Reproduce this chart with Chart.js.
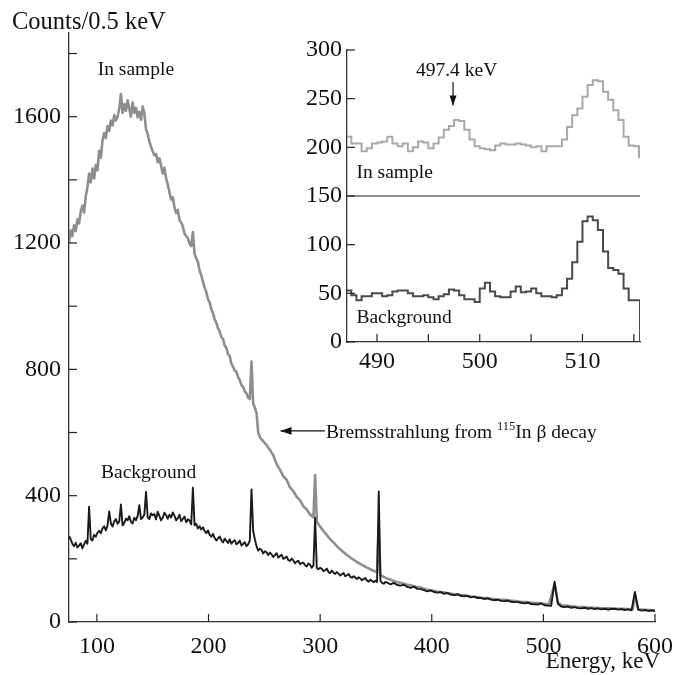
<!DOCTYPE html>
<html>
<head>
<meta charset="utf-8">
<script src="https://cdn.jsdelivr.net/npm/chart.js@4.4.1/dist/chart.umd.min.js"></script>
<style>
  html, body { margin: 0; padding: 0; background: #ffffff; }
  #wrap { position: relative; width: 675px; height: 675px; }
  #wrap canvas { position: absolute; left: 0; top: 0; }
</style>
</head>
<body>
<div id="wrap">
  <canvas id="main" width="675" height="675"></canvas>
  <canvas id="inset" width="675" height="675"></canvas>
</div>
<script>
// ---------- Main spectrum: In sample (gray) ----------
const sampleEnergy = [
  75, 76.5, 78, 79.5, 81, 82.5, 84, 85.5, 87, 88.5,
  90, 91.5, 93, 94.5, 96, 97.5, 99, 100.5, 102, 103.5,
  105, 106.5, 108, 109.5, 111, 112.5, 114, 115.5, 117, 118.5,
  120, 121.5, 123, 124.5, 126, 127.5, 129, 130.5, 132, 133.5,
  135, 136.5, 138, 139.5, 141, 142.5, 144, 145.5, 147, 148.5,
  150, 151.5, 153, 154.5, 156, 157.5, 159, 160.5, 162, 163.5,
  165, 166.5, 168, 169.5, 171, 172.5, 174, 175.5, 177, 178.5,
  180, 181.5, 183, 184.5, 186, 187.5, 189, 190.5, 192, 193.5,
  195, 196.5, 198, 199.5, 201, 202.5, 204, 205.5, 207, 208.5,
  210, 211.5, 213, 214.5, 216, 217.5, 219, 220.5, 222, 223.5,
  225, 226.5, 228, 229.5, 231, 232.5, 234, 235.5, 237, 238.5,
  240, 241.5, 243, 244.5, 246, 247.5, 249, 250.5, 252, 253.5,
  255, 258, 261, 264, 267, 270, 273, 276, 279, 282,
  285, 288, 291, 294, 295.5, 297, 300, 303, 306, 309,
  312, 315, 318, 321, 324, 327, 330, 333, 336, 339,
  342, 345, 348, 351, 352.5, 354, 357, 360, 363, 366,
  369, 372, 375, 378, 381, 384, 387, 390, 395, 400,
  405, 410, 415, 420, 425, 430, 435, 440, 445, 450,
  455, 460, 465, 470, 475, 480, 485, 490, 495, 500,
  505, 510, 513, 516, 520, 525, 530, 535, 540, 545,
  550, 555, 560, 565, 570, 575, 580, 582, 585, 590,
  595, 600
];
const sampleCounts = [
  1200, 1240, 1222, 1256, 1238, 1275, 1262, 1300, 1318, 1296,
  1348, 1375, 1420, 1392, 1436, 1404, 1447, 1430, 1492, 1470,
  1525, 1548, 1532, 1570, 1555, 1588, 1572, 1605, 1588, 1600,
  1625, 1672, 1612, 1640, 1618, 1652, 1626, 1600, 1645, 1612,
  1628, 1598, 1615, 1590, 1632, 1610, 1560, 1545, 1522, 1505,
  1490, 1478, 1482, 1456, 1468, 1445, 1420, 1438, 1405, 1385,
  1360, 1338, 1345, 1312, 1295, 1305, 1272, 1265, 1252, 1230,
  1222, 1215, 1198, 1190, 1235, 1165, 1152, 1140, 1112, 1098,
  1078, 1058, 1045, 1022, 1012, 990, 978, 958, 948, 930,
  920, 902, 896, 875, 868, 848, 842, 818, 808, 796,
  792, 775, 766, 750, 745, 730, 724, 710, 706, 825,
  692, 678, 662, 600, 586, 578, 572, 566, 560, 552,
  545, 528, 500, 482, 462, 450, 426, 414, 396, 385,
  366, 356, 340, 332, 465, 318, 302, 288, 275, 262,
  252, 240, 230, 221, 212, 204, 197, 190, 184, 178,
  172, 167, 162, 157, 300, 148, 143, 138, 134, 130,
  126, 124, 121, 118, 116, 113, 111, 109, 103, 100,
  96, 94, 91, 88, 86, 84, 81, 79, 77, 76,
  73, 71, 70, 68, 66, 64, 63, 61, 60, 58,
  56, 120, 62, 53, 52, 50, 48, 47, 46, 45,
  44, 43, 43, 42, 42, 41, 40, 85, 40, 39,
  38, 37
];

// ---------- Main spectrum: Background (black) ----------
const bgEnergy = [
  75, 76.5, 78, 79.5, 81, 82.5, 84, 85.5, 87, 88.5,
  90, 91.5, 93, 94.5, 96, 97.5, 99, 100.5, 102, 103.5,
  105, 106.5, 108, 109.5, 111, 112.5, 114, 115.5, 117, 118.5,
  120, 121.5, 123, 124.5, 126, 127.5, 129, 130.5, 132, 133.5,
  135, 136.5, 138, 139.5, 141, 142.5, 144, 145.5, 147, 148.5,
  150, 151.5, 153, 154.5, 156, 157.5, 159, 160.5, 162, 163.5,
  165, 166.5, 168, 169.5, 171, 172.5, 174, 175.5, 177, 178.5,
  180, 181.5, 183, 184.5, 186, 187.5, 189, 190.5, 192, 193.5,
  195, 196.5, 198, 199.5, 201, 202.5, 204, 205.5, 207, 208.5,
  210, 211.5, 213, 214.5, 216, 217.5, 219, 220.5, 222, 223.5,
  225, 226.5, 228, 229.5, 231, 232.5, 234, 235.5, 237, 238.5,
  240, 241.5, 243, 244.5, 246, 247.5, 249, 250.5, 252, 253.5,
  255, 256.5, 258, 259.5, 261, 262.5, 264, 265.5, 267, 268.5,
  270, 271.5, 273, 274.5, 276, 277.5, 279, 280.5, 282, 283.5,
  285, 286.5, 288, 289.5, 291, 292.5, 294, 295.5, 297, 298.5,
  300, 301.5, 303, 304.5, 306, 307.5, 309, 310.5, 312, 313.5,
  315, 316.5, 318, 319.5, 321, 322.5, 324, 325.5, 327, 328.5,
  330, 331.5, 333, 334.5, 336, 337.5, 339, 340.5, 342, 343.5,
  345, 346.5, 348, 349.5, 351, 352.5, 354, 355.5, 357, 358.5,
  360, 363, 366, 369, 372, 375, 378, 381, 384, 387,
  390, 393, 396, 399, 402, 405, 408, 411, 414, 417,
  420, 423, 426, 429, 432, 435, 438, 441, 444, 447,
  450, 453, 456, 459, 462, 465, 468, 471, 474, 477,
  480, 483, 486, 489, 492, 495, 498, 501, 504, 507,
  510, 513, 516, 519, 522, 525, 528, 531, 534, 537,
  540, 543, 546, 549, 552, 555, 558, 561, 564, 567,
  570, 573, 576, 579, 582, 585, 588, 591, 594, 597,
  600
];
const bgCounts = [
  272, 262, 248, 240, 251, 236, 242, 249, 233, 246,
  257, 248, 365, 262, 258, 276, 270, 282, 289, 281,
  296, 303, 290, 305, 350, 312, 302, 318, 326, 311,
  318, 372, 306, 313, 327, 322, 335, 317, 312, 330,
  322, 336, 370, 326, 331, 340, 412, 331, 326, 344,
  338, 342, 325, 349, 336, 322, 330, 346, 338, 327,
  340, 331, 347, 336, 322, 329, 340, 319, 326, 334,
  316, 325, 321, 309, 425, 306, 311, 296, 303, 293,
  300, 288, 281, 290, 276, 270, 279, 266, 258, 264,
  271, 259, 252, 264, 257, 250, 262, 248, 255, 259,
  246, 250, 258, 242, 247, 253, 240, 246, 258, 420,
  288, 262, 240, 226, 232, 228, 217, 224, 221, 212,
  220, 214, 206, 212, 218, 204, 209, 213, 200, 203,
  207, 196, 193, 201, 195, 186, 191, 194, 183, 187,
  188, 180, 176, 185, 181, 172, 179, 330, 171, 167,
  172, 168, 161, 164, 169, 158, 155, 163, 156, 152,
  158, 153, 147, 151, 155, 145, 148, 152, 143, 140,
  145, 141, 136, 142, 138, 132, 136, 139, 131, 128,
  134, 130, 126, 131, 127, 413, 130, 124, 121, 127,
  125, 119, 124, 117, 115, 118, 111, 108, 112, 105,
  104, 101, 97, 100, 95, 93, 95, 89, 92, 87,
  85, 88, 83, 81, 83, 78, 80, 76, 76, 73,
  75, 71, 69, 71, 67, 66, 68, 64, 63, 63,
  61, 59, 61, 57, 56, 55, 59, 53, 52, 51,
  128, 58, 49, 47, 49, 45, 47, 44, 43, 45,
  42, 44, 41, 43, 40, 42, 39, 41, 42, 39,
  41, 38, 40, 37, 95, 39, 36, 38, 35, 37,
  35
];

// ---------- Inset: 0.5 keV bins (left edges) around 497-511 keV ----------
const insetEnergy = [
  487.0, 487.5, 488.0, 488.5, 489.0, 489.5, 490.0, 490.5, 491.0, 491.5,
  492.0, 492.5, 493.0, 493.5, 494.0, 494.5, 495.0, 495.5, 496.0, 496.5,
  497.0, 497.5, 498.0, 498.5, 499.0, 499.5, 500.0, 500.5, 501.0, 501.5,
  502.0, 502.5, 503.0, 503.5, 504.0, 504.5, 505.0, 505.5, 506.0, 506.5,
  507.0, 507.5, 508.0, 508.5, 509.0, 509.5, 510.0, 510.5, 511.0, 511.5,
  512.0, 512.5, 513.0, 513.5, 514.0, 514.5, 515.0, 515.5, 515.6
];
const insetSample = [
  211, 204, 204, 196, 199, 204, 205, 206, 211, 204,
  201, 204, 196, 200, 206, 205, 199, 204, 210, 218,
  222, 228, 227, 218, 208, 201, 199, 198, 197, 202,
  204, 203, 203, 204, 203, 202, 200, 201, 196, 201,
  201, 201, 208, 221, 233, 240, 252, 264, 269, 268,
  257, 249, 238, 228, 211, 202, 201, 190, 190
];
const insetBackground = [
  53, 48, 43, 47, 47, 50, 50, 47, 48, 52,
  53, 53, 50, 47, 47, 48, 46, 44, 47, 49,
  54, 53, 48, 44, 44, 41, 55, 61, 52, 47,
  46, 46, 52, 57, 51, 52, 55, 50, 47, 47,
  46, 48, 55, 65, 82, 103, 124, 129, 125, 115,
  93, 76, 74, 70, 55, 43, 43, 43, 0
];

// ---------- Tick label sets ----------
const mainXTicks = [100, 200, 300, 400, 500, 600];
const mainYLabelled = [0, 400, 800, 1200, 1600];
const insetXLabelled = [490, 500, 510];

// ---------- Texts ----------
const yTitle = 'Counts/0.5 keV';
const xTitle = 'Energy, keV';
const labelSample = 'In sample';
const labelBackground = 'Background';
const bremsText = ['Bremsstrahlung from ', '115', 'In \u03B2 decay'];
const lineLabel = '497.4 keV';

const SERIF = '"Liberation Serif", "Times New Roman", serif';
const pts = (xs, ys) => xs.map((e, i) => ({ x: e, y: ys[i] }));

function arrow(ctx, x1, y1, x2, y2, head) {
  ctx.beginPath(); ctx.moveTo(x1, y1); ctx.lineTo(x2, y2); ctx.stroke();
  const a = Math.atan2(y2 - y1, x2 - x1);
  ctx.beginPath();
  ctx.moveTo(x2, y2);
  ctx.lineTo(x2 - head * Math.cos(a) + head * 0.35 * Math.sin(a), y2 - head * Math.sin(a) - head * 0.35 * Math.cos(a));
  ctx.lineTo(x2 - head * Math.cos(a) - head * 0.35 * Math.sin(a), y2 - head * Math.sin(a) + head * 0.35 * Math.cos(a));
  ctx.closePath(); ctx.fill();
}

const innerTicks = {
  id: 'innerTicks',
  afterDraw(chart, args, opts) {
    const { ctx, chartArea: ca } = chart;
    const xs = chart.scales.x, ys = chart.scales.y;
    ctx.save();
    ctx.strokeStyle = opts.color || '#222';
    ctx.lineWidth = 1.2;
    xs.ticks.forEach(t => {
      const px = xs.getPixelForValue(t.value);
      ctx.beginPath(); ctx.moveTo(px, ca.bottom); ctx.lineTo(px, ca.bottom - opts.len); ctx.stroke();
    });
    ys.ticks.forEach(t => {
      const py = ys.getPixelForValue(t.value);
      ctx.beginPath(); ctx.moveTo(ca.left, py); ctx.lineTo(ca.left + opts.len, py); ctx.stroke();
    });
    if (opts.hline !== undefined) {
      const py = ys.getPixelForValue(opts.hline);
      ctx.beginPath(); ctx.moveTo(ca.left, py); ctx.lineTo(ca.right, py); ctx.stroke();
    }
    ctx.restore();
  }
};

const mainText = {
  id: 'mainText',
  afterDraw(chart) {
    const { ctx, chartArea: ca } = chart;
    const x = chart.scales.x, y = chart.scales.y;
    ctx.save();
    ctx.fillStyle = '#111';
    ctx.strokeStyle = '#111';
    ctx.textBaseline = 'alphabetic';
    ctx.font = '24.5px ' + SERIF;
    ctx.textAlign = 'left';
    ctx.fillText(yTitle, ca.left - 57, ca.top - 4);
    ctx.font = '23px ' + SERIF;
    ctx.textAlign = 'right';
    ctx.fillText(xTitle, ca.right + 5, 668);
    ctx.textAlign = 'left';
    ctx.font = '19.5px ' + SERIF;
    ctx.fillText(labelSample, x.getPixelForValue(100.7), y.getPixelForValue(1731));
    ctx.fillText(labelBackground, x.getPixelForValue(103.7), y.getPixelForValue(456));
    // Bremsstrahlung annotation
    let bx = x.getPixelForValue(305.2);
    const by = y.getPixelForValue(582);
    ctx.fillText(bremsText[0], bx, by);
    bx += ctx.measureText(bremsText[0]).width;
    ctx.font = '12.5px ' + SERIF;
    ctx.fillText(bremsText[1], bx, by - 8);
    bx += ctx.measureText(bremsText[1]).width;
    ctx.font = '19.5px ' + SERIF;
    ctx.fillText(bremsText[2], bx, by);
    ctx.lineWidth = 1.2;
    arrow(ctx, x.getPixelForValue(304.2), y.getPixelForValue(605), x.getPixelForValue(264.5), y.getPixelForValue(605), 11);
    ctx.restore();
  }
};

const insetText = {
  id: 'insetText',
  afterDraw(chart) {
    const { ctx } = chart;
    const x = chart.scales.x, y = chart.scales.y;
    ctx.save();
    ctx.fillStyle = '#111';
    ctx.strokeStyle = '#111';
    ctx.font = '19.5px ' + SERIF;
    ctx.textBaseline = 'alphabetic';
    ctx.textAlign = 'left';
    ctx.fillText(labelSample, x.getPixelForValue(488.0), y.getPixelForValue(168.5));
    ctx.fillText(labelBackground, x.getPixelForValue(488.0), y.getPixelForValue(19.5));
    ctx.textAlign = 'center';
    ctx.fillText(lineLabel, x.getPixelForValue(497.75), y.getPixelForValue(273));
    ctx.lineWidth = 1.2;
    arrow(ctx, x.getPixelForValue(497.4), y.getPixelForValue(267), x.getPixelForValue(497.4), y.getPixelForValue(243), 10);
    ctx.restore();
  }
};

const tickFont = { family: SERIF, size: 24 };

new Chart(document.getElementById('main'), {
  type: 'line',
  data: {
    datasets: [
      { label: 'Background', data: pts(bgEnergy, bgCounts), borderColor: '#1a1a1a', borderWidth: 1.9,
        pointRadius: 0, tension: 0, order: 0, borderJoinStyle: 'round' },
      { label: 'In sample', data: pts(sampleEnergy, sampleCounts), borderColor: '#8e8e8e', borderWidth: 2.6,
        pointRadius: 0, tension: 0, order: 1, borderJoinStyle: 'round' }
    ]
  },
  options: {
    responsive: false, animation: false, devicePixelRatio: 1,
    layout: { padding: { left: 0, top: 33, right: 20, bottom: 0 } },
    plugins: { legend: { display: false }, tooltip: { enabled: false }, innerTicks: { len: 8 } },
    scales: {
      x: {
        type: 'linear', min: 75, max: 600,
        grid: { display: false }, border: { color: '#333', width: 1.3 },
        ticks: { stepSize: 100, includeBounds: false, font: tickFont, color: '#111', padding: 2, maxRotation: 0,
          callback: v => mainXTicks.includes(v) ? String(v) : '' },
        afterFit: s => { s.height = 53; s.paddingRight = 0; }
      },
      y: {
        type: 'linear', min: 0, max: 1865,
        grid: { display: false, drawTicks: false }, border: { color: '#333', width: 1.3 },
        ticks: { stepSize: 200, includeBounds: false, font: tickFont, color: '#111', padding: 8,
          callback: v => mainYLabelled.includes(v) ? String(v) : '' },
        afterFit: s => { s.width = 69; }
      }
    }
  },
  plugins: [innerTicks, mainText]
});

new Chart(document.getElementById('inset'), {
  type: 'line',
  data: {
    datasets: [
      { label: 'In sample', data: pts(insetEnergy, insetSample), borderColor: '#a9a9a9', borderWidth: 2,
        pointRadius: 0, stepped: 'before', order: 1 },
      { label: 'Background', data: pts(insetEnergy, insetBackground), borderColor: '#4a4a4a', borderWidth: 2,
        pointRadius: 0, stepped: 'before', order: 0 }
    ]
  },
  options: {
    responsive: false, animation: false, devicePixelRatio: 1,
    layout: { padding: { left: 290, top: 50, right: 35, bottom: 293 } },
    plugins: { legend: { display: false }, tooltip: { enabled: false }, innerTicks: { len: 8, hline: 150 } },
    scales: {
      x: {
        type: 'linear', min: 487.08, max: 515.6,
        grid: { display: false, drawTicks: false }, border: { color: '#333', width: 1.3 },
        ticks: { stepSize: 5, includeBounds: false, font: tickFont, color: '#111', padding: 5, maxRotation: 0,
          autoSkip: false, callback: v => insetXLabelled.includes(v) ? String(v) : '' },
        afterFit: s => { s.height = 40; }
      },
      y: {
        type: 'linear', min: 0, max: 300,
        grid: { display: false, drawTicks: false }, border: { color: '#333', width: 1.3 },
        ticks: { stepSize: 50, font: tickFont, color: '#111', padding: 5 },
        afterFit: s => { s.width = 57; }
      }
    }
  },
  plugins: [innerTicks, insetText]
});
</script>
</body>
</html>
